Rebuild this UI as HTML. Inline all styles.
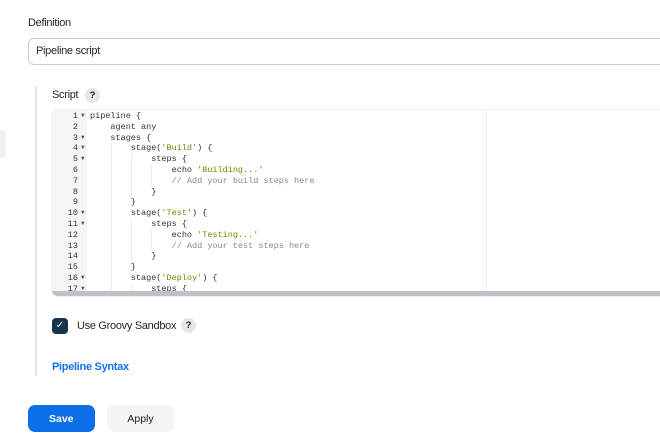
<!DOCTYPE html>
<html><head><style>
body{margin:0;width:660px;height:447px;background:#fff;font-family:"Liberation Sans",sans-serif;position:relative;overflow:hidden;color:#1f2328}
.a{position:absolute}
.t{font-size:11px;letter-spacing:-0.3px}
.code{position:absolute;left:52px;top:110px;width:620px;height:186px;background:#fff;border-radius:6px 0 0 6px;overflow:hidden;box-shadow:0 0 0 1px #f0f0f0}
.gut{position:absolute;left:0;top:0;width:35px;height:186px;background:#f5f5f6}
.ln,.tx,.ar{position:absolute;font-family:"Liberation Mono",monospace;font-size:8.5px;line-height:10.8px;white-space:pre;top:1px}
.ln{left:0;width:26px;text-align:right;color:#333}
.ar{left:29px;color:#555;font-size:8.5px}
.ar div{height:10.8px;font-size:6px;line-height:10.8px}
.tx{left:38px;color:#333}
.s{color:#6a8a00}.c{color:#888}
.g{position:absolute;width:1px;background:#ececec}
.q{display:inline-block;width:15px;height:15px;border-radius:50%;background:#e6e6e6;font-size:9.5px;font-weight:bold;text-align:center;line-height:15px;color:#222}
</style></head><body>
<div class="a t" style="left:28px;top:17px">Definition</div>
<div class="a t" style="left:28px;top:38px;width:640px;height:27px;border:1px solid #c6ccd2;border-radius:6px;box-sizing:border-box;line-height:25px;padding-left:7px">Pipeline script</div>
<div class="a" style="left:35px;top:86px;width:2px;height:290px;background:#e2e4e6"></div>
<div class="a" style="left:0;top:130px;width:6px;height:28px;background:#eef0f3;border-radius:0 4px 4px 0"></div>
<div class="a t" style="left:52px;top:89px">Script</div>
<div class="a q" style="left:85px;top:88px">?</div>
<div class="code">
<div class="gut"></div>
<div class="g" style="left:59px;top:33px;height:153px"></div>
<div class="g" style="left:79px;top:44px;height:44px"></div>
<div class="g" style="left:99px;top:55px;height:22px"></div>
<div class="g" style="left:79px;top:109px;height:44px"></div>
<div class="g" style="left:99px;top:120px;height:22px"></div>
<div class="g" style="left:79px;top:174px;height:12px"></div>
<div class="ln">1
2
3
4
5
6
7
8
9
10
11
12
13
14
15
16
17</div>
<div class="ar"><div>▼</div><div></div><div>▼</div><div>▼</div><div>▼</div><div></div><div></div><div></div><div></div><div>▼</div><div>▼</div><div></div><div></div><div></div><div></div><div>▼</div><div>▼</div></div>
<div class="tx">pipeline {
    agent any
    stages {
        stage(<span class="s">'Build'</span>) {
            steps {
                echo <span class="s">'Building...'</span>
                <span class="c">// Add your build steps here</span>
            }
        }
        stage(<span class="s">'Test'</span>) {
            steps {
                echo <span class="s">'Testing...'</span>
                <span class="c">// Add your test steps here</span>
            }
        }
        stage(<span class="s">'Deploy'</span>) {
            steps {</div>
<div class="a" style="left:434px;top:0;width:1px;height:186px;background:#f0f0f0"></div>
<div class="a" style="left:0;top:181px;width:620px;height:5px;background:#bcc2c8"></div>
</div>
<div class="a" style="left:52px;top:318px;width:16px;height:16px;background:#17334f;border-radius:4px;color:#fff;font-size:10px;text-align:center;line-height:16px">✓</div>
<div class="a t" style="left:77px;top:320px">Use Groovy Sandbox</div>
<div class="a q" style="left:181px;top:318px">?</div>
<div class="a t" style="left:52px;top:361px;color:#1473e6;font-weight:bold">Pipeline Syntax</div>
<div class="a" style="left:28px;top:405px;width:67px;height:27px;background:#0b6fe8;border-radius:7px;color:#fff;font-size:10.5px;font-weight:bold;line-height:29px;padding-left:21px;box-sizing:border-box">Save</div>
<div class="a" style="left:107px;top:405px;width:67px;height:27px;background:#f3f4f6;border-radius:7px;color:#222;font-size:10.5px;line-height:29px;text-align:center">Apply</div>
</body></html>
